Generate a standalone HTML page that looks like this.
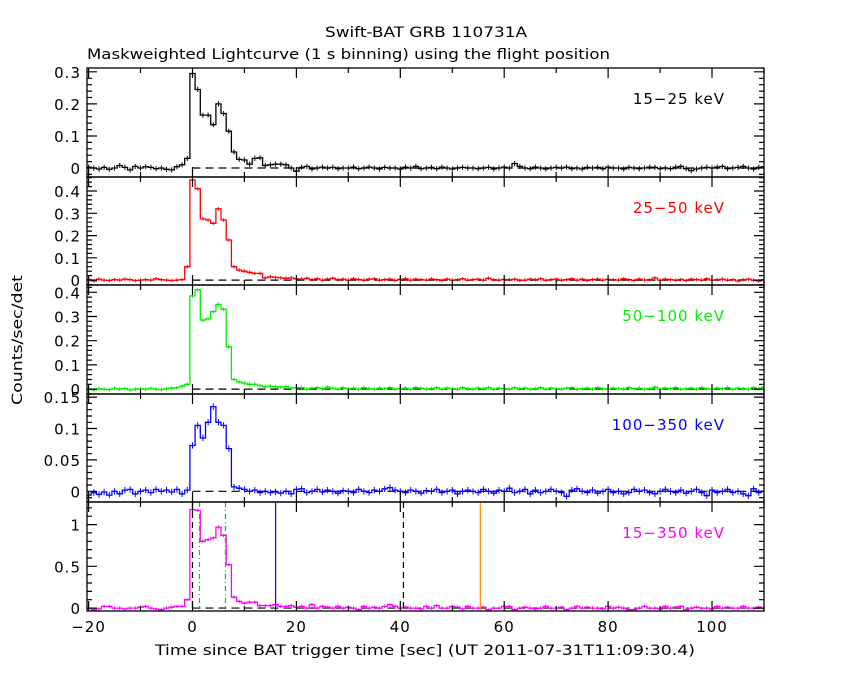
<!DOCTYPE html>
<html><head><meta charset="utf-8">
<style>
html,body{margin:0;padding:0;background:#fff;}
svg{display:block;font-family:"DejaVu Sans","Liberation Sans",sans-serif;}
</style></head>
<body>
<svg id="chart" width="850" height="680" viewBox="0 0 850 680" xmlns="http://www.w3.org/2000/svg">
<rect x="0" y="0" width="850" height="680" fill="#fff"/>
<text x="325" y="37" font-size="14" textLength="202" lengthAdjust="spacingAndGlyphs">Swift-BAT GRB 110731A</text>
<text x="87" y="59" font-size="14" textLength="523" lengthAdjust="spacingAndGlyphs">Maskweighted Lightcurve (1 s binning) using the flight position</text>
<text transform="translate(22,405) rotate(-90)" font-size="14" textLength="130" lengthAdjust="spacingAndGlyphs">Counts/sec/det</text>
<text x="155" y="655" font-size="14" textLength="540" lengthAdjust="spacingAndGlyphs">Time since BAT trigger time [sec] (UT 2011-07-31T11:09:30.4)</text>
<g id="plots"></g>
</svg>
<script>
const tStart = -20;
const xTickLabels = ["−20","0","20","40","60","80","100"];
const xTickValues = [-20,0,20,40,60,80,100];

const band1 = [0.003,0.0,-0.003,0.002,-0.004,0.0,0.008,0.002,-0.006,0.005,0.0,0.004,0.002,-0.002,0.0,-0.004,-0.006,0.004,
0.01,0.03,0.295,0.245,0.165,0.165,0.135,0.2,0.17,0.115,0.05,0.027,0.025,0.012,0.03,0.032,0.008,0.01,0.012,0.012,0.01,0.0,-0.01,
0.002,0.005,-0.003,0.0,0.003,0.0,0.002,-0.002,0.0,0.0,0.003,-0.002,0.0,0.003,0.0,-0.003,0.002,0.0,0.0,-0.003,0.003,0.0,0.005,-0.002,0.0,0.002,-0.002,0.003,0.0,-0.003,0.0,0.002,0.0,0.0,-0.002,0.0,0.002,-0.003,0.0,0.003,0.0,0.014,0.005,0.0,-0.002,0.003,0.0,-0.003,0.0,0.002,0.0,0.003,-0.002,0.0,-0.003,0.002,0.0,0.002,-0.002,0.003,0.0,0.0,-0.003,0.002,0.0,-0.002,0.0,0.003,0.002,-0.002,0.0,-0.002,0.003,0.005,-0.002,-0.008,-0.003,0.0,0.002,0.0,0.003,0.005,-0.002,0.0,0.002,0.005,0.0,-0.003,0.002,0.004,0.0,-0.002,0.003];

const band2 = [0.003,-0.004,0.004,0.0,-0.002,0.002,0.0,0.004,0.002,-0.002,0.0,0.002,0.0,0.006,0.002,0.0,-0.002,0.0,
0.002,0.06,0.45,0.41,0.275,0.27,0.255,0.32,0.27,0.18,0.06,0.045,0.04,0.035,0.03,0.03,0.01,0.015,0.012,0.01,0.008,0.01,0.006,
0.004,0.008,0.002,0.006,0.0,0.004,0.008,0.002,0.004,0.0,0.006,0.002,0.0,0.004,0.006,0.0,0.002,0.004,-0.002,0.003,0.006,0.0,0.004,0.002,0.0,0.005,0.002,-0.002,0.004,0.0,0.002,0.006,0.0,0.002,0.004,0.0,0.008,0.002,0.0,0.003,0.002,0.004,-0.002,0.0,0.004,0.002,0.006,0.0,0.002,0.004,0.0,0.002,0.006,0.0,0.004,-0.002,0.002,0.004,0.0,0.003,0.002,0.0,0.006,0.002,-0.002,0.004,0.0,0.002,0.01,0.0,0.004,0.002,0.0,0.003,-0.002,0.004,0.002,0.0,0.006,0.0,0.002,0.004,0.0,0.002,-0.004,0.002,0.004,0.0,-0.004,0.002];

const band3 = [0.002,-0.003,0.002,0.0,-0.002,0.003,0.0,0.002,-0.003,0.0,0.002,0.0,0.003,0.0,-0.002,0.002,0.004,0.006,
0.012,0.02,0.385,0.41,0.285,0.29,0.32,0.35,0.33,0.175,0.04,0.03,0.025,0.02,0.02,0.015,0.01,0.012,0.01,0.008,0.01,0.004,0.006,
0.006,0.0,0.004,0.006,0.002,0.008,0.004,0.0,0.006,0.002,0.004,0.0,0.006,0.002,0.0,0.004,0.002,0.006,0.0,0.002,0.004,0.0,0.006,0.004,0.0,0.002,0.006,0.0,0.004,0.002,0.0,0.006,0.002,0.0,0.004,0.002,0.006,0.0,0.004,0.002,0.0,0.006,0.002,0.004,0.0,0.002,0.006,0.0,0.004,0.002,0.0,0.004,0.006,0.0,0.002,0.004,0.0,0.006,0.002,0.0,0.004,0.002,0.0,0.006,0.002,0.004,0.0,0.002,0.008,0.0,0.004,0.002,0.006,0.0,0.002,0.004,0.0,0.006,0.002,0.0,0.004,0.002,0.006,0.0,0.004,0.002,0.0,0.006,0.002,0.008];

const band4 = [-0.006,-0.002,-0.005,-0.001,-0.006,0.0,-0.004,0.002,0.003,-0.004,0.0,0.002,-0.002,0.003,0.0,0.002,-0.001,0.003,
-0.004,0.002,0.073,0.105,0.085,0.11,0.135,0.11,0.105,0.068,0.007,0.005,0.003,0.0,0.002,-0.002,0.0,-0.002,-0.001,-0.003,0.0,-0.004,0.003,
0.004,-0.002,0.0,0.003,-0.001,0.002,0.0,-0.003,0.001,0.0,-0.002,0.003,0.0,-0.002,0.002,0.0,0.004,0.006,0.002,0.0,-0.002,0.002,0.0,-0.003,0.001,0.0,0.003,-0.002,0.0,0.002,-0.004,0.0,0.002,0.0,-0.002,0.003,0.0,-0.003,0.002,0.0,0.005,-0.002,0.0,0.003,-0.004,0.002,-0.002,0.0,0.003,0.0,-0.002,-0.008,0.002,0.004,0.0,-0.002,0.002,-0.003,0.0,0.003,-0.002,0.0,-0.004,-0.002,0.003,0.0,0.002,-0.002,-0.004,0.0,0.003,0.0,-0.002,0.002,-0.003,0.0,0.003,-0.002,-0.007,0.002,-0.002,0.0,0.003,-0.002,0.0,-0.004,-0.007,0.004,-0.002,0.0,-0.005,0.006];

const band5 = [0.0,-0.02,-0.01,0.02,0.02,0.0,0.0,-0.01,0.0,0.0,0.01,0.02,0.0,-0.01,-0.02,0.0,0.01,0.02,
0.02,0.1,1.18,1.17,0.8,0.82,0.84,0.97,0.87,0.52,0.13,0.08,0.06,0.07,0.07,0.03,0.03,0.03,0.04,0.02,0.02,0.03,0.01,
0.02,0.0,0.04,0.0,0.02,0.01,0.0,0.02,0.0,0.01,0.0,-0.02,0.02,0.0,0.01,0.0,0.02,0.04,0.02,0.0,0.01,0.0,0.0,-0.01,0.02,0.0,0.03,0.0,0.0,0.02,0.01,-0.01,0.02,0.0,0.0,0.01,-0.02,0.0,0.0,0.02,0.02,-0.02,0.0,0.01,0.0,-0.01,0.0,0.02,0.0,0.0,0.01,-0.02,0.0,0.02,0.0,0.01,0.0,0.0,-0.01,0.02,0.0,0.01,0.0,-0.02,-0.02,0.0,0.02,0.0,0.0,-0.01,0.02,0.0,0.01,0.02,-0.02,0.0,0.01,0.0,0.0,-0.01,0.02,0.0,0.01,0.0,0.0,0.02,0.0,0.0,0.01,0.0,0.0];

const bandNames = ["15-25 keV","25-50 keV","50-100 keV","100-350 keV","15-350 keV"];
const bandLabels = ["15−25 keV","25−50 keV","50−100 keV","100−350 keV","15−350 keV"];
const bandColors = ["#000","#f00","#0e0","#00f","#f0f"];
const yMins = [-0.028,-0.022,-0.02,-0.017,-0.035];
const yMaxs = [0.312,0.463,0.43,0.155,1.27];
const yTickValues = [[0,0.1,0.2,0.3],[0,0.1,0.2,0.3,0.4],[0,0.1,0.2,0.3,0.4],[0,0.05,0.1,0.15],[0,0.5,1]];
const yTickLabels = [["0","0.1","0.2","0.3"],["0","0.1","0.2","0.3","0.4"],["0","0.1","0.2","0.3","0.4"],["0","0.05","0.1","0.15"],["0","0.5","1"]];
const yMinorSteps = [0.02,0.02,0.02,0.01,0.1];
const errs = [0.008,0.008,0.008,0.005,0.02];
const allBands = [band1,band2,band3,band4,band5];

const markerTimes = [0, 40.6, 1.35, 6.35, 16, 55.4];
const markerNames = ["t90-start-line","t90-end-line","t50-start-line","t50-end-line","peak-line","end-line"];
const markerColors = ["#000","#000","#0c0","#0c0","#00f","#f80"];
const markerDash = ["6,4","6,4","5,3,1,3","5,3,1,3","",""];

const L=87, R=764, tops=[68,177,285,394,502], H=[109,108,109,108,109];
const xMin=-20.3, xMax=110;
const X = t => L + (t-xMin)/(xMax-xMin)*(R-L);
const NS="http://www.w3.org/2000/svg";
const g=document.getElementById('plots');
function mk(tag, attrs, parent){const e=document.createElementNS(NS,tag);for(const k in attrs)e.setAttribute(k,attrs[k]);(parent||g).appendChild(e);return e;}

for(let p=0;p<5;p++){
  const top=tops[p], bot=top+H[p];
  const Y = v => bot - (v-yMins[p])/(yMaxs[p]-yMins[p])*H[p];
  const pg=mk('g',{});
  
  
  const zl=mk('line',{x1:X(0),x2:R,y1:Y(0),y2:Y(0),stroke:'#000','stroke-width':1.2,'stroke-dasharray':'8,5'},pg);
  
  
  const data=allBands[p];
  let d='';
  for(let i=0;i<data.length;i++){
    const t=tStart+i;
    if(t-0.5>xMax) break;
    const x0=X(Math.max(t-0.5,xMin)), x1=X(Math.min(t+0.5,xMax)); const y=Y(data[i]);
    d += (i===0?'M':'L')+x0.toFixed(1)+','+y.toFixed(1)+'L'+x1.toFixed(1)+','+y.toFixed(1);
  }
  const hp=mk('path',{d:d,fill:'none',stroke:bandColors[p],'stroke-width':1.3},pg);
  
  
  let e='';
  for(let i=0;i<data.length;i++){
    const t=tStart+i; if(t>xMax) break; const x=X(t);
    e+='M'+x.toFixed(1)+','+Y(data[i]-errs[p]).toFixed(1)+'V'+Y(data[i]+errs[p]).toFixed(1);
  }
  const ep=mk('path',{d:e,fill:'none',stroke:bandColors[p],'stroke-width':1},pg);
  
  
  if(p===4){
    for(let m=0;m<markerTimes.length;m++){
      const ml=mk('line',{x1:X(markerTimes[m]),x2:X(markerTimes[m]),y1:top,y2:bot,stroke:markerColors[m],'stroke-width':1.2},pg);
      if(markerDash[m]) ml.setAttribute('stroke-dasharray',markerDash[m]);
      
      
    }
  }
  const fr=mk('rect',{x:L,y:top,width:R-L,height:H[p],fill:'none',stroke:'#000','stroke-width':1.3},pg);
  
  
  let tk='';
  for(let v=Math.ceil(yMins[p]/yMinorSteps[p])*yMinorSteps[p]; v<=yMaxs[p]+1e-9; v+=yMinorSteps[p]){
    const y=Y(v).toFixed(1); tk+='M'+L+','+y+'h5M'+R+','+y+'h-5';
  }
  yTickValues[p].forEach(v=>{const y=Y(v).toFixed(1); tk+='M'+L+','+y+'h10M'+R+','+y+'h-10';});
  for(let t=-20;t<=110;t+=10){
    const x=X(t).toFixed(1); const len=(t%20===0)?10:5;
    tk+='M'+x+','+bot+'v-'+len+'M'+x+','+top+'v'+len;
  }
  const tp=mk('path',{d:tk,fill:'none',stroke:'#000','stroke-width':1.2},pg);
  
  
  yTickLabels[p].forEach((lab,k)=>{
    const tx=mk('text',{x:L-6,y:Y(yTickValues[p][k])+6,'text-anchor':'end','font-size':15,'letter-spacing':1},pg);
    tx.textContent=lab;
    
    
  });
  const bl=mk('text',{x:725,y:top+36,'text-anchor':'end','font-size':15,'letter-spacing':1,fill:bandColors[p]},pg);
  bl.textContent=bandLabels[p];
  
  
}
xTickValues.forEach((v,k)=>{
  const tx=mk('text',{x:X(v),y:632,'text-anchor':'middle','font-size':15,'letter-spacing':1});
  tx.textContent=xTickLabels[k];
  
  
});
</script>
</body></html>
